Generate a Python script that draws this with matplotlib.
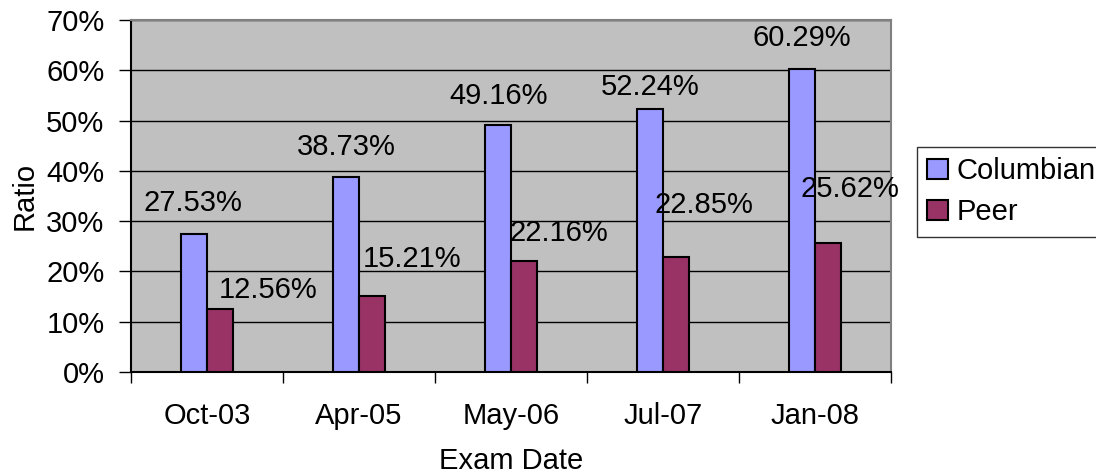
import matplotlib.pyplot as plt
import numpy as np

plt.rcParams['font.family'] = ['Liberation Sans', 'DejaVu Sans']

dates = ['Oct-03', 'Apr-05', 'May-06', 'Jul-07', 'Jan-08']
columbian = [27.53, 38.73, 49.16, 52.24, 60.29]
peer = [12.56, 15.21, 22.16, 22.85, 25.62]
y_ticks = [0, 10, 20, 30, 40, 50, 60, 70]

# label offsets in pixels (dx, dy above bar top) - excel placed them unevenly
col_offsets = [(-1, 31), (0, 30), (0, 29), (0, 22), (0, 31)]
peer_offsets = [(48, 19), (40, 37), (35, 28), (28, 52), (22, 54)]

FS = 21
px = 0.72  # pixels -> points at dpi 100

fig = plt.figure(figsize=(10.96, 4.75), dpi=100)
ax = fig.add_axes([131 / 1096, 1 - 372 / 475, 760 / 1096, 352 / 475])
ax.set_facecolor('#C0C0C0')

x = np.arange(len(dates))
w = 0.168
b1 = ax.bar(x - w / 2, columbian, w, color='#9999FF', edgecolor='black', linewidth=1.5, label='Columbian', zorder=3)
b2 = ax.bar(x + w / 2, peer, w, color='#993366', edgecolor='black', linewidth=1.5, label='Peer', zorder=3)

for i in range(len(dates)):
    dx, dy = col_offsets[i]
    ax.annotate('%.2f%%' % columbian[i], (x[i] - w / 2, columbian[i]),
                xytext=(dx * px, dy * px), textcoords='offset points',
                ha='center', va='center', fontsize=FS, zorder=4, annotation_clip=False)
    dx, dy = peer_offsets[i]
    ax.annotate('%.2f%%' % peer[i], (x[i] + w / 2, peer[i]),
                xytext=(dx * px, dy * px), textcoords='offset points',
                ha='center', va='center', fontsize=FS, zorder=4, annotation_clip=False)

ax.set_xlim(-0.5, len(dates) - 0.5)
ax.set_ylim(0, 70)
ax.set_yticks(y_ticks)
ax.set_yticklabels(['%d%%' % t for t in y_ticks], fontsize=FS)
ax.yaxis.grid(True, color='black', linewidth=1, zorder=1)
ax.set_axisbelow(True)

ax.set_xticks(np.arange(-0.5, len(dates)), minor=False)
ax.set_xticklabels([])
ax.set_xticks(x, minor=True)
ax.set_xticklabels(dates, minor=True, fontsize=FS)
ax.tick_params(axis='x', which='minor', length=0, pad=30 * px)
ax.tick_params(axis='x', which='major', length=8, direction='out', width=1)
ax.tick_params(axis='y', length=9, direction='out', width=1, pad=14 * px)

for s in ['top', 'right', 'bottom']:
    ax.spines[s].set_color('#808080')
    ax.spines[s].set_linewidth(1.5)
ax.spines['bottom'].set_color('black')
ax.spines['left'].set_color('black')
ax.spines['left'].set_linewidth(1.5)

ax.set_ylabel('Ratio', fontsize=FS)
ax.yaxis.set_label_coords(-92 / 760, 0.5)
ax.set_xlabel('Exam Date', fontsize=FS)
ax.xaxis.set_label_coords(0.5, -(447 - 372) / 352)

leg = fig.legend(handles=[b1, b2], loc='upper left', bbox_to_anchor=(917 / 1096, 1 - 147 / 475),
                 fontsize=FS, frameon=True, fancybox=False, edgecolor='black',
                 handlelength=0.7, handleheight=0.7, handletextpad=0.3,
                 borderpad=0.35, labelspacing=0.45, borderaxespad=0)
leg.get_frame().set_linewidth(1)

fig.savefig('out.png', dpi=100)
